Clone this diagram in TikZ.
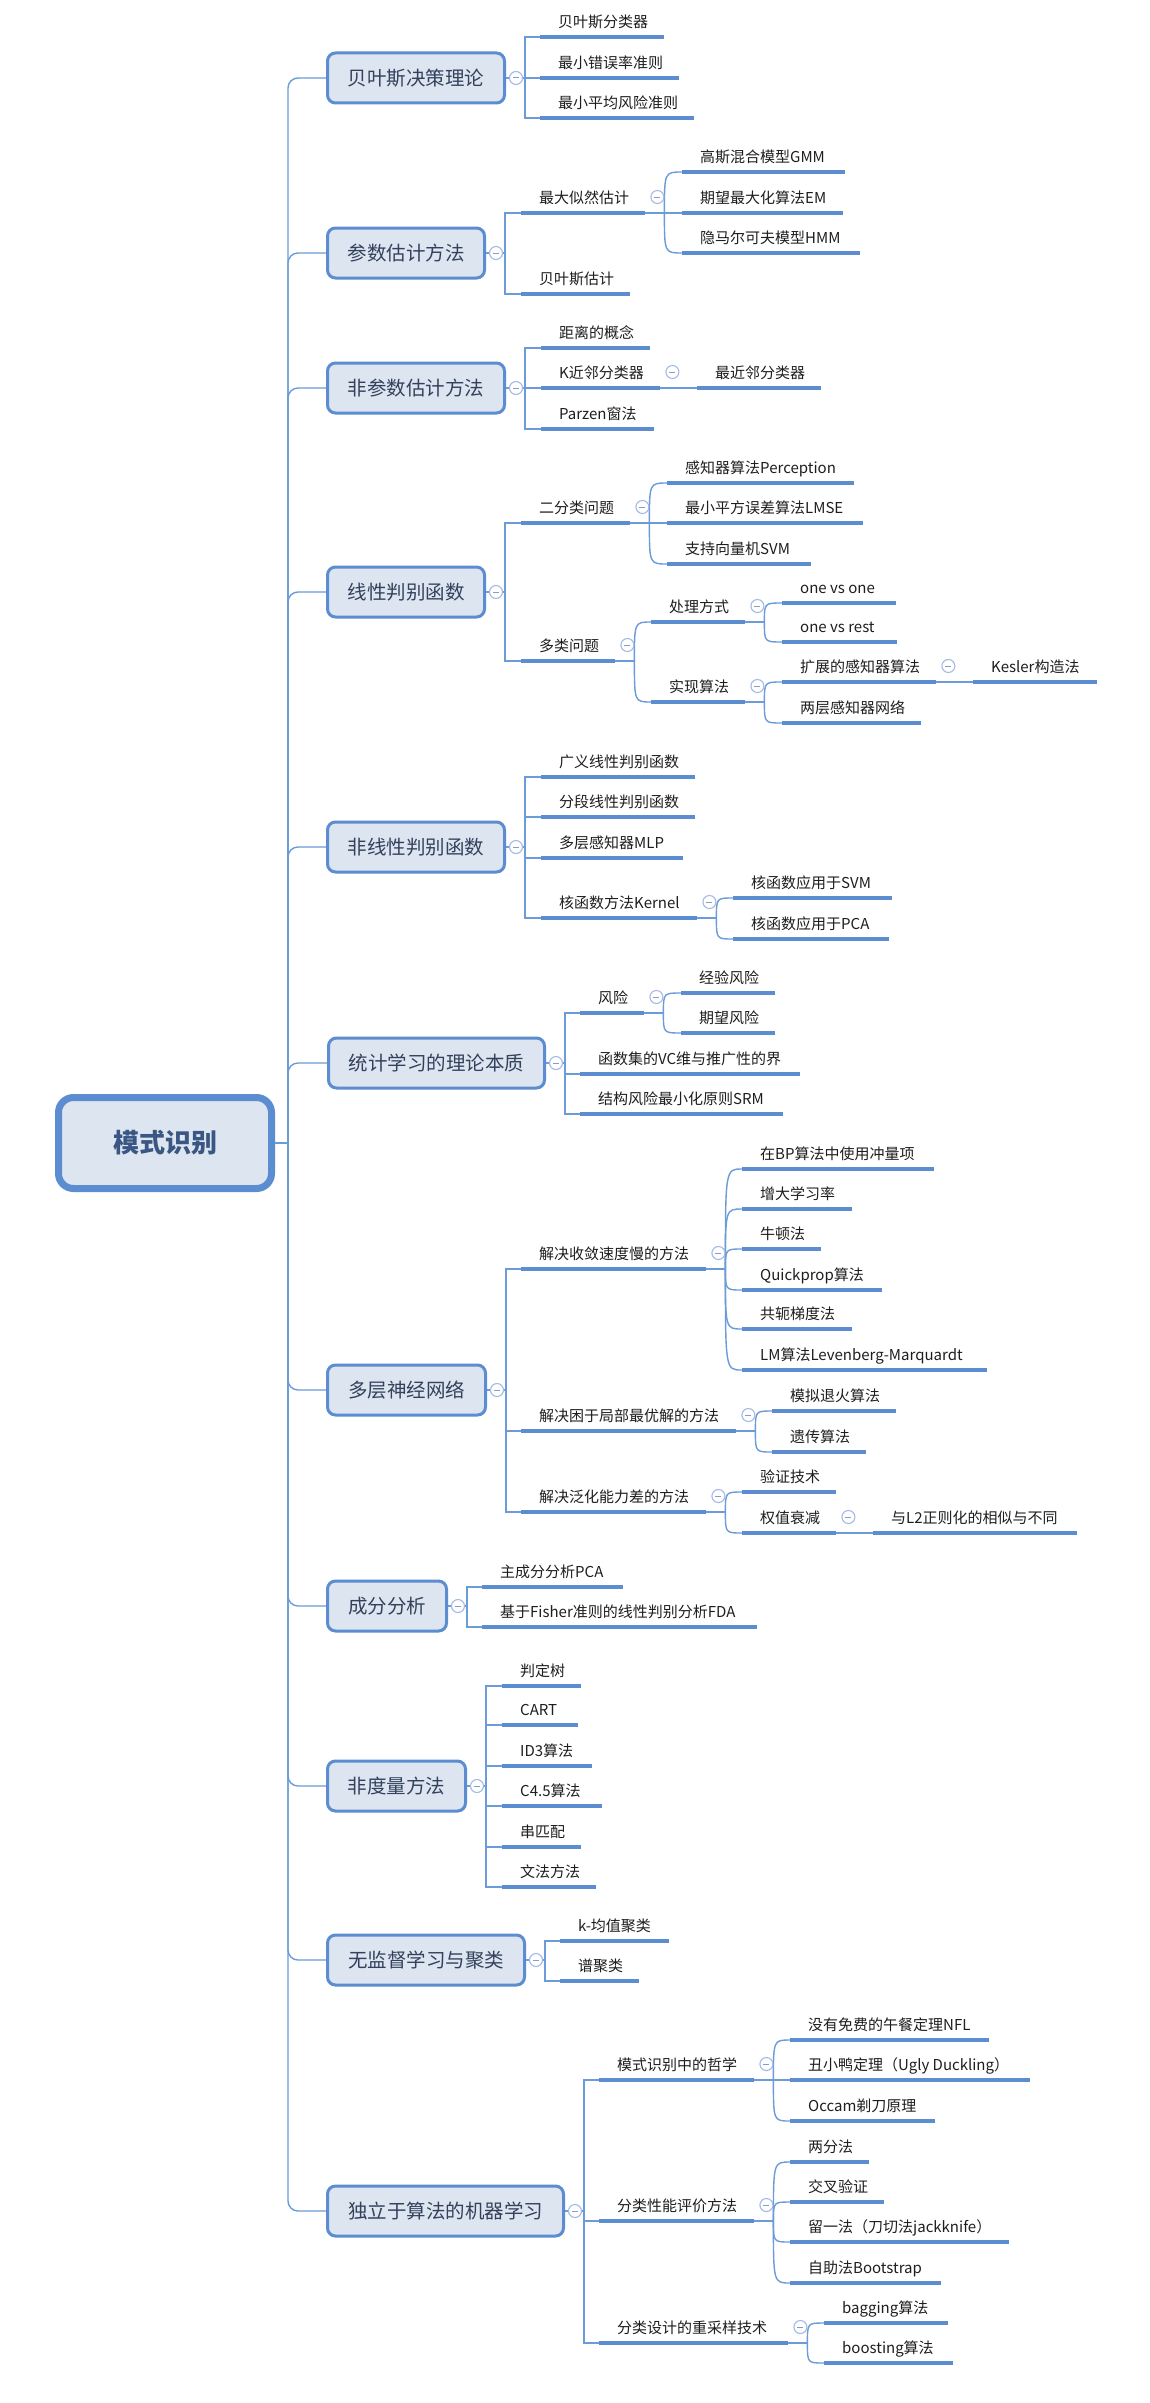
\documentclass[tikz,border=0pt]{standalone}
\usepackage{fontspec}
\setmainfont{Noto Sans CJK SC}
\usetikzlibrary{calc}
\definecolor{bfill}{HTML}{DDE5F1}
\definecolor{bdraw}{HTML}{5B8DD0}
\definecolor{ulc}{HTML}{5B8DD0}
\definecolor{linec}{HTML}{6B9BD9}
\definecolor{circc}{HTML}{A3BAE6}
\definecolor{minusc}{HTML}{8A9CC0}
\definecolor{roottext}{HTML}{3A5683}
\definecolor{onetext}{HTML}{33415C}
\definecolor{leaftext}{HTML}{1E1E1E}
\newcommand\lf[2]{\hbox to #1pt{\hskip18pt\relax #2\hss}}
\begin{document}
\begin{tikzpicture}[x=1pt,y=-1pt,
  rootbox/.style={draw=bdraw, fill=bfill, line width=7pt, rounded corners=15pt,
    minimum width=213pt, minimum height=91pt, inner sep=0pt, text=roottext,
    font=\fontsize{26}{30}\selectfont\bfseries},
  onebox/.style={draw=bdraw, fill=bfill, line width=3pt, rounded corners=8pt,
    minimum height=50pt, inner sep=0pt, anchor=west, text=onetext,
    font=\fontsize{19.5}{22}\selectfont},
  ulline/.style={draw=ulc, line width=4pt},
  leaf/.style={anchor=south west, inner sep=0pt, text height=12pt, text depth=9pt,
    text=leaftext, font=\fontsize{15}{18}\selectfont,
    append after command={(\tikzlastnode.south west) edge[ulline] (\tikzlastnode.south east)}},
  conn/.style={draw=linec, line width=1.4pt},
  collapse/.style={circle, draw=circc, line width=1.1pt, fill=white, minimum size=13pt, inner sep=0pt,
    path picture={\draw[draw=minusc, line width=1pt] ([xshift=-3pt]path picture bounding box.center) -- ([xshift=3pt]path picture bounding box.center);}}
]
\fill[white] (0,0) rectangle (1149,2403);
\useasboundingbox (0,0) rectangle (1149,2403);

% ---------- root and level 1 ----------
\node[rootbox] (root) at (165,1143) {模式识别};
\node[onebox, minimum width=177pt] (b1) at (326,78) {贝叶斯决策理论};
\node[onebox, minimum width=157pt] (b2) at (326,253) {参数估计方法};
\node[onebox, minimum width=177pt] (b3) at (326,388) {非参数估计方法};
\node[onebox, minimum width=157pt] (b4) at (326,592) {线性判别函数};
\node[onebox, minimum width=177pt] (b5) at (326,847) {非线性判别函数};
\node[onebox, minimum width=216pt] (b6) at (327,1063) {统计学习的理论本质};
\node[onebox, minimum width=158pt] (b7) at (326,1390) {多层神经网络};
\node[onebox, minimum width=119pt] (b8) at (326,1606) {成分分析};
\node[onebox, minimum width=138pt] (b9) at (326,1786) {非度量方法};
\node[onebox, minimum width=197pt] (b10) at (326,1960) {无监督学习与聚类};
\node[onebox, minimum width=236pt] (b11) at (326,2211) {独立于算法的机器学习};

\coordinate (sp) at (288,1143);
\draw[conn] (root.east) -- (sp);
\foreach \b in {b1,b2,b3,b4,b5,b6,b7,b8,b9,b10,b11}
  \draw[conn, rounded corners=10pt] (sp) |- (\b.west);

% ---------- G1 ----------
\node[leaf] (n11) at (540,37) {\lf{124}{贝叶斯分类器}};
\node[leaf] (n12) at (540,78) {\lf{139}{最小错误率准则}};
\node[leaf] (n13) at (540,118) {\lf{154}{最小平均风险准则}};
\foreach \c in {n11,n12,n13} \draw[conn] (b1.east) -- ++(19pt,0) |- (\c.south west);

% ---------- G2 ----------
\node[leaf] (n21) at (521,213) {\lf{124}{最大似然估计}};
\node[leaf] (n22) at (521,294) {\lf{109}{贝叶斯估计}};
\node[leaf] (n211) at (682,172) {\lf{163}{高斯混合模型GMM}};
\node[leaf] (n212) at (682,213) {\lf{161}{期望最大化算法EM}};
\node[leaf] (n213) at (682,253) {\lf{178}{隐马尔可夫模型HMM}};
\foreach \c in {n21,n22} \draw[conn] (b2.east) -- ++(19pt,0) |- (\c.south west);
\coordinate (j21) at ([xshift=19pt]n21.south east);
\draw[conn] (n21.south east) -- (j21);
\foreach \c in {n211,n212,n213} \draw[conn] (j21) .. controls (j21 |- \c.south west) .. (\c.south west);

% ---------- G3 ----------
\node[leaf] (n31) at (541,348) {\lf{109}{距离的概念}};
\node[leaf] (n32) at (541,388) {\lf{119}{K近邻分类器}};
\node[leaf] (n33) at (541,429) {\lf{113}{Parzen窗法}};
\node[leaf] (n321) at (697,388) {\lf{124}{最近邻分类器}};
\foreach \c in {n31,n32,n33} \draw[conn] (b3.east) -- ++(19pt,0) |- (\c.south west);
\draw[conn] (n32.south east) -- (n321.south west);

% ---------- G4 ----------
\node[leaf] (n41) at (521,523) {\lf{109}{二分类问题}};
\node[leaf] (n42) at (521,661) {\lf{94}{多类问题}};
\node[leaf] (n411) at (667,483) {\lf{187}{感知器算法Perception}};
\node[leaf] (n412) at (667,523) {\lf{196}{最小平方误差算法LMSE}};
\node[leaf] (n413) at (667,564) {\lf{144}{支持向量机SVM}};
\node[leaf] (n421) at (651,622) {\lf{94}{处理方式}};
\node[leaf] (n422) at (651,702) {\lf{94}{实现算法}};
\node[leaf] (n4211) at (782,603) {\lf{114}{one vs one}};
\node[leaf] (n4212) at (782,642) {\lf{115}{one vs rest}};
\node[leaf] (n4221) at (782,682) {\lf{154}{扩展的感知器算法}};
\node[leaf] (n4222) at (782,723) {\lf{139}{两层感知器网络}};
\node[leaf] (n42211) at (973,682) {\lf{124}{Kesler构造法}};
\foreach \c in {n41,n42} \draw[conn] (b4.east) -- ++(19pt,0) |- (\c.south west);
\coordinate (j41) at ([xshift=19pt]n41.south east);
\draw[conn] (n41.south east) -- (j41);
\foreach \c in {n411,n412,n413} \draw[conn] (j41) .. controls (j41 |- \c.south west) .. (\c.south west);
\coordinate (j42) at ([xshift=19pt]n42.south east);
\draw[conn] (n42.south east) -- (j42);
\foreach \c in {n421,n422} \draw[conn] (j42) .. controls (j42 |- \c.south west) .. (\c.south west);
\coordinate (j421) at ([xshift=19pt]n421.south east);
\draw[conn] (n421.south east) -- (j421);
\foreach \c in {n4211,n4212} \draw[conn] (j421) .. controls (j421 |- \c.south west) .. (\c.south west);
\coordinate (j422) at ([xshift=19pt]n422.south east);
\draw[conn] (n422.south east) -- (j422);
\foreach \c in {n4221,n4222} \draw[conn] (j422) .. controls (j422 |- \c.south west) .. (\c.south west);
\draw[conn] (n4221.south east) -- (n42211.south west);

% ---------- G5 ----------
\node[leaf] (n51) at (541,777) {\lf{154}{广义线性判别函数}};
\node[leaf] (n52) at (541,817) {\lf{154}{分段线性判别函数}};
\node[leaf] (n53) at (541,858) {\lf{142}{多层感知器MLP}};
\node[leaf] (n54) at (541,918) {\lf{156}{核函数方法Kernel}};
\node[leaf] (n541) at (733,898) {\lf{159}{核函数应用于SVM}};
\node[leaf] (n542) at (733,939) {\lf{156}{核函数应用于PCA}};
\foreach \c in {n51,n52,n53,n54} \draw[conn] (b5.east) -- ++(19pt,0) |- (\c.south west);
\coordinate (j54) at ([xshift=19pt]n54.south east);
\draw[conn] (n54.south east) -- (j54);
\foreach \c in {n541,n542} \draw[conn] (j54) .. controls (j54 |- \c.south west) .. (\c.south west);

% ---------- G6 ----------
\node[leaf] (n61) at (580,1013) {\lf{64}{风险}};
\node[leaf] (n62) at (580,1074) {\lf{220}{函数集的VC维与推广性的界}};
\node[leaf] (n63) at (580,1114) {\lf{203}{结构风险最小化原则SRM}};
\node[leaf] (n611) at (681,993) {\lf{94}{经验风险}};
\node[leaf] (n612) at (681,1033) {\lf{94}{期望风险}};
\foreach \c in {n61,n62,n63} \draw[conn] (b6.east) -- ++(19pt,0) |- (\c.south west);
\coordinate (j61) at ([xshift=19pt]n61.south east);
\draw[conn] (n61.south east) -- (j61);
\foreach \c in {n611,n612} \draw[conn] (j61) .. controls (j61 |- \c.south west) .. (\c.south west);

% ---------- G7 ----------
\node[leaf] (n71) at (521,1269) {\lf{185}{解决收敛速度慢的方法}};
\node[leaf] (n72) at (521,1431) {\lf{215}{解决困于局部最优解的方法}};
\node[leaf] (n73) at (521,1512) {\lf{185}{解决泛化能力差的方法}};
\node[leaf] (n711) at (742,1169) {\lf{192}{在BP算法中使用冲量项}};
\node[leaf] (n712) at (742,1209) {\lf{110}{增大学习率}};
\node[leaf] (n713) at (742,1249) {\lf{79}{牛顿法}};
\node[leaf] (n714) at (742,1290) {\lf{140}{Quickprop算法}};
\node[leaf] (n715) at (742,1329) {\lf{110}{共轭梯度法}};
\node[leaf] (n716) at (742,1370) {\lf{245}{LM算法Levenberg-Marquardt}};
\node[leaf] (n721) at (772,1411) {\lf{124}{模拟退火算法}};
\node[leaf] (n722) at (772,1452) {\lf{94}{遗传算法}};
\node[leaf] (n731) at (742,1492) {\lf{94}{验证技术}};
\node[leaf] (n732) at (742,1533) {\lf{94}{权值衰减}};
\node[leaf] (n7321) at (873,1533) {\lf{204}{与L2正则化的相似与不同}};
\foreach \c in {n71,n72,n73} \draw[conn] (b7.east) -- ++(19pt,0) |- (\c.south west);
\coordinate (j71) at ([xshift=19pt]n71.south east);
\draw[conn] (n71.south east) -- (j71);
\foreach \c in {n711,n712,n713,n714,n715,n716} \draw[conn] (j71) .. controls (j71 |- \c.south west) .. (\c.south west);
\coordinate (j72) at ([xshift=19pt]n72.south east);
\draw[conn] (n72.south east) -- (j72);
\foreach \c in {n721,n722} \draw[conn] (j72) .. controls (j72 |- \c.south west) .. (\c.south west);
\coordinate (j73) at ([xshift=19pt]n73.south east);
\draw[conn] (n73.south east) -- (j73);
\foreach \c in {n731,n732} \draw[conn] (j73) .. controls (j73 |- \c.south west) .. (\c.south west);
\draw[conn] (n732.south east) -- (n7321.south west);

% ---------- G8 ----------
\node[leaf] (n81) at (482,1587) {\lf{141}{主成分分析PCA}};
\node[leaf] (n82) at (482,1627) {\lf{275}{基于Fisher准则的线性判别分析FDA}};
\foreach \c in {n81,n82} \draw[conn] (b8.east) -- ++(19pt,0) |- (\c.south west);

% ---------- G9 ----------
\node[leaf] (n91) at (502,1686) {\lf{79}{判定树}};
\node[leaf] (n92) at (502,1725) {\lf{76}{CART}};
\node[leaf] (n93) at (502,1766) {\lf{90}{ID3算法}};
\node[leaf] (n94) at (502,1806) {\lf{100}{C4.5算法}};
\node[leaf] (n95) at (502,1847) {\lf{79}{串匹配}};
\node[leaf] (n96) at (502,1887) {\lf{94}{文法方法}};
\foreach \c in {n91,n92,n93,n94,n95,n96} \draw[conn] (b9.east) -- ++(19pt,0) |- (\c.south west);

% ---------- G10 ----------
\node[leaf] (n101) at (560,1941) {\lf{109}{k-均值聚类}};
\node[leaf] (n102) at (560,1981) {\lf{79}{谱聚类}};
\foreach \c in {n101,n102} \draw[conn] (b10.east) -- ++(19pt,0) |- (\c.south west);

% ---------- G11 ----------
\node[leaf] (n111) at (599,2080) {\lf{155}{模式识别中的哲学}};
\node[leaf] (n112) at (599,2221) {\lf{155}{分类性能评价方法}};
\node[leaf] (n113) at (599,2343) {\lf{189}{分类设计的重采样技术}};
\node[leaf] (n1111) at (790,2040) {\lf{199}{没有免费的午餐定理NFL}};
\node[leaf] (n1112) at (790,2080) {\lf{240}{丑小鸭定理（Ugly Duckling）}};
\node[leaf] (n1113) at (790,2121) {\lf{145}{Occam剃刀原理}};
\node[leaf] (n1121) at (790,2162) {\lf{79}{两分法}};
\node[leaf] (n1122) at (790,2202) {\lf{94}{交叉验证}};
\node[leaf] (n1123) at (790,2242) {\lf{219}{留一法（刀切法jackknife）}};
\node[leaf] (n1124) at (790,2283) {\lf{151}{自助法Bootstrap}};
\node[leaf] (n1131) at (824,2323) {\lf{124}{bagging算法}};
\node[leaf] (n1132) at (824,2363) {\lf{129}{boosting算法}};
\foreach \c in {n111,n112,n113} \draw[conn] (b11.east) -- ++(19pt,0) |- (\c.south west);
\coordinate (j111) at ([xshift=19pt]n111.south east);
\draw[conn] (n111.south east) -- (j111);
\foreach \c in {n1111,n1112,n1113} \draw[conn] (j111) .. controls (j111 |- \c.south west) .. (\c.south west);
\coordinate (j112) at ([xshift=19pt]n112.south east);
\draw[conn] (n112.south east) -- (j112);
\foreach \c in {n1121,n1122,n1123,n1124} \draw[conn] (j112) .. controls (j112 |- \c.south west) .. (\c.south west);
\coordinate (j113) at ([xshift=19pt]n113.south east);
\draw[conn] (n113.south east) -- (j113);
\foreach \c in {n1131,n1132} \draw[conn] (j113) .. controls (j113 |- \c.south west) .. (\c.south west);

% ---------- collapse buttons ----------
\foreach \b in {b1,b2,b3,b4,b5,b6,b7,b8,b9,b10,b11}
  \node[collapse] (c\b) at ([xshift=10pt]\b.east) {};
\foreach \p in {n21,n32,n41,n42,n421,n422,n4221,n54,n61,n71,n72,n73,n732,n111,n112,n113}
  \node[collapse] (c\p) at ([xshift=12pt,yshift=16pt]\p.south east) {};
\end{tikzpicture}
\end{document}
